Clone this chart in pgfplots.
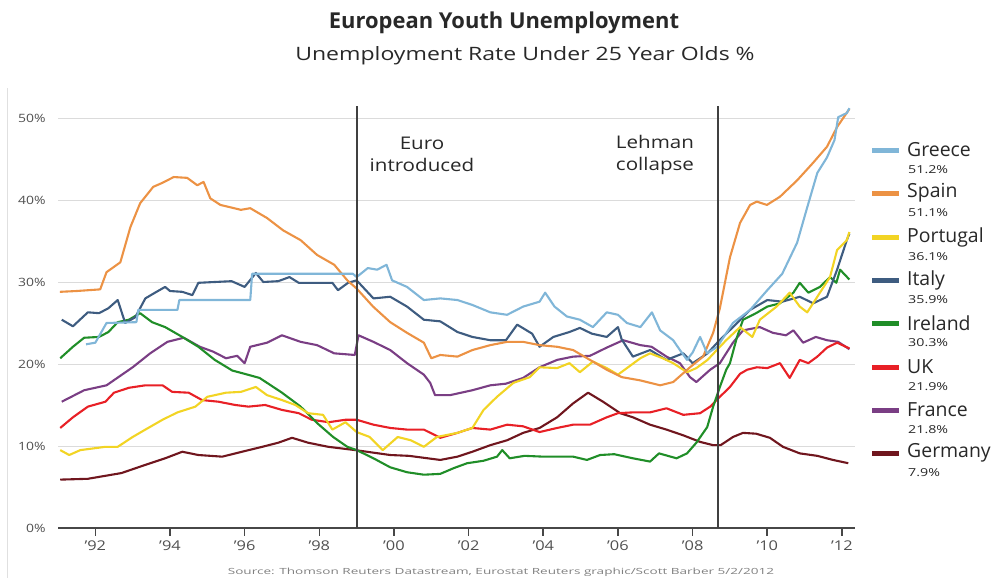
\documentclass[border=0pt]{standalone}
\usepackage{graphicx}
\usepackage{pgfplots}
\pgfplotsset{compat=1.18}
\usepackage{fontspec}
\setmainfont{Open Sans}
\newfontfamily\wide{Open Sans}[FakeStretch=1.22]
\definecolor{cGreece}{RGB}{128,182,216}
\definecolor{cSpain}{RGB}{236,146,68}
\definecolor{cPortugal}{RGB}{242,212,36}
\definecolor{cItaly}{RGB}{62,92,128}
\definecolor{cIreland}{RGB}{32,142,40}
\definecolor{cUK}{RGB}{232,32,38}
\definecolor{cFrance}{RGB}{122,62,132}
\definecolor{cGermany}{RGB}{112,22,30}
\definecolor{txt}{RGB}{40,40,40}
\definecolor{ticktxt}{RGB}{80,80,80}

\pgfplotstableread{
x y
1991.05 28.8
1991.5 28.9
1992.13 29.1
1992.3 31.2
1992.67 32.4
1992.94 36.7
1993.2 39.6
1993.55 41.6
1993.8 42.1
1994.1 42.8
1994.46 42.7
1994.73 41.8
1994.9 42.2
1995.08 40.2
1995.35 39.4
1995.9 38.8
1996.15 39.0
1996.6 37.8
1997.03 36.3
1997.5 35.1
1997.94 33.3
1998.4 32.1
1998.75 30.2
1999.0 29.2
1999.44 27.0
1999.9 25.1
2000.35 23.8
2000.8 22.6
2001.0 20.7
2001.24 21.1
2001.7 20.9
2002.1 21.7
2002.58 22.3
2003.03 22.7
2003.46 22.7
2003.9 22.3
2004.37 22.1
2004.8 21.7
2005.25 20.5
2005.7 19.3
2006.1 18.4
2006.6 18.0
2007.13 17.4
2007.48 17.8
2007.93 19.6
2008.28 20.9
2008.55 23.8
2008.73 26.8
2009.0 33.0
2009.27 37.2
2009.54 39.4
2009.72 39.8
2009.99 39.4
2010.34 40.4
2010.8 42.4
2011.22 44.5
2011.6 46.5
2011.87 48.9
2012.2 51.1
}\spain

\pgfplotstableread{
x y
1991.75 22.4
1992.0 22.6
1992.3 25.0
1993.1 25.1
1993.15 26.6
1994.2 26.6
1994.25 27.8
1996.15 27.8
1996.2 31.0
1998.9 31.0
1999.0 30.6
1999.3 31.7
1999.55 31.5
1999.8 32.1
1999.95 30.2
2000.35 29.4
2000.8 27.8
2001.24 28.0
2001.7 27.8
2002.1 27.2
2002.58 26.3
2003.03 26.0
2003.46 27.0
2003.9 27.6
2004.05 28.7
2004.3 27.0
2004.63 25.8
2004.98 25.4
2005.33 24.5
2005.7 26.3
2006.0 26.0
2006.24 25.0
2006.6 24.5
2006.91 26.3
2007.13 24.1
2007.48 22.9
2007.66 21.7
2007.85 20.5
2008.0 21.4
2008.2 23.3
2008.39 21.3
2008.66 22.1
2009.08 25.0
2009.54 26.6
2010.0 29.0
2010.4 31.0
2010.8 34.8
2011.07 39.1
2011.34 43.3
2011.6 45.2
2011.8 47.3
2011.9 50.1
2012.13 50.6
2012.2 51.2
}\greece

\pgfplotstableread{
x y
1991.06 9.5
1991.3 8.9
1991.6 9.5
1992.27 9.9
1992.6 9.9
1993.0 11.1
1993.34 12.0
1993.8 13.2
1994.2 14.1
1994.68 14.8
1995.0 16.0
1995.5 16.5
1995.9 16.6
1996.3 17.2
1996.6 16.2
1997.0 15.6
1997.36 15.0
1997.7 14.0
1998.1 13.8
1998.35 12.0
1998.7 12.9
1999.0 11.7
1999.35 11.1
1999.7 9.5
2000.1 11.1
2000.45 10.7
2000.8 9.9
2001.15 11.1
2001.7 11.6
2002.1 12.2
2002.4 14.4
2002.76 16.0
2003.2 17.7
2003.64 18.4
2003.9 19.6
2004.37 19.5
2004.7 20.1
2004.98 19.0
2005.33 20.3
2005.7 19.5
2006.0 18.7
2006.24 19.5
2006.6 20.7
2006.86 21.3
2007.2 20.7
2007.48 20.1
2007.85 19.0
2008.1 19.5
2008.4 20.5
2008.73 22.1
2008.9 22.9
2009.27 24.5
2009.6 23.3
2009.8 25.4
2010.25 27.0
2010.6 28.7
2010.87 27.0
2011.07 26.3
2011.34 28.2
2011.68 30.6
2011.87 33.9
2012.13 35.1
2012.2 36.1
}\portugal

\pgfplotstableread{
x y
1991.1 25.4
1991.4 24.6
1991.8 26.3
1992.1 26.2
1992.35 26.8
1992.6 27.8
1992.8 25.0
1993.07 25.7
1993.34 28.0
1993.6 28.7
1993.87 29.4
1994.0 28.9
1994.33 28.8
1994.6 28.4
1994.76 29.9
1995.2 30.0
1995.65 30.1
1996.0 29.4
1996.3 31.1
1996.5 30.0
1996.9 30.1
1997.2 30.6
1997.45 29.9
1997.9 29.9
1998.35 29.9
1998.5 29.0
1998.77 29.9
1999.0 30.2
1999.45 28.0
1999.9 28.2
2000.35 27.0
2000.8 25.4
2001.24 25.2
2001.7 23.9
2002.1 23.3
2002.58 22.9
2003.0 22.9
2003.3 24.8
2003.7 23.7
2003.9 22.1
2004.27 23.3
2004.7 23.9
2004.98 24.4
2005.3 23.7
2005.7 23.3
2006.0 24.5
2006.1 23.0
2006.4 20.9
2006.86 21.7
2007.3 20.5
2007.75 21.3
2008.0 20.1
2008.4 21.3
2008.66 22.6
2009.08 24.5
2009.54 26.6
2010.0 27.8
2010.4 27.6
2010.87 28.2
2011.23 27.4
2011.6 28.2
2011.87 31.5
2012.13 35.1
2012.2 35.9
}\italy

\pgfplotstableread{
x y
1991.06 20.7
1991.4 22.1
1991.7 23.2
1992.1 23.3
1992.35 23.9
1992.6 25.1
1992.9 25.4
1993.2 26.2
1993.52 25.1
1993.87 24.5
1994.33 23.3
1994.76 22.1
1995.2 20.5
1995.67 19.2
1996.0 18.8
1996.4 18.3
1997.0 16.5
1997.5 14.8
1997.94 12.8
1998.37 11.1
1998.75 9.9
1999.0 9.5
1999.45 8.5
1999.9 7.4
2000.35 6.8
2000.8 6.5
2001.24 6.6
2001.6 7.3
2001.96 7.9
2002.4 8.2
2002.76 8.7
2002.9 9.5
2003.1 8.5
2003.5 8.8
2004.0 8.7
2004.4 8.7
2004.8 8.7
2005.17 8.3
2005.52 8.9
2005.9 9.0
2006.4 8.5
2006.86 8.1
2007.1 9.1
2007.57 8.5
2007.85 9.1
2008.1 10.4
2008.39 12.3
2008.55 14.8
2008.73 17.2
2008.9 19.3
2009.0 20.1
2009.19 23.3
2009.35 25.4
2009.7 26.2
2010.0 27.0
2010.34 27.4
2010.7 28.7
2010.87 29.9
2011.1 28.7
2011.41 29.4
2011.68 30.6
2011.85 29.9
2011.95 31.5
2012.2 30.3
}\ireland

\pgfplotstableread{
x y
1991.06 12.2
1991.4 13.5
1991.8 14.8
1992.27 15.4
1992.5 16.5
1992.9 17.1
1993.34 17.4
1993.8 17.4
1994.06 16.6
1994.5 16.5
1994.86 15.6
1995.3 15.4
1995.75 15.0
1996.1 14.8
1996.55 15.0
1997.0 14.4
1997.45 14.0
1997.8 13.2
1998.25 12.9
1998.7 13.2
1999.0 13.2
1999.45 12.6
1999.9 12.2
2000.35 12.0
2000.8 12.0
2001.24 11.0
2001.7 11.6
2002.1 12.2
2002.58 12.0
2003.03 12.6
2003.46 12.4
2003.9 11.7
2004.37 12.2
2004.8 12.6
2005.25 12.6
2005.7 13.5
2006.0 14.0
2006.4 14.1
2006.86 14.1
2007.3 14.6
2007.75 13.8
2008.2 14.0
2008.47 14.8
2008.73 16.0
2009.0 17.2
2009.27 18.8
2009.46 19.3
2009.72 19.6
2010.0 19.5
2010.34 20.1
2010.6 18.3
2010.87 20.5
2011.1 20.1
2011.34 20.9
2011.6 22.0
2011.87 22.6
2012.2 21.9
}\uk

\pgfplotstableread{
x y
1991.1 15.4
1991.7 16.8
1992.3 17.4
1993.0 19.6
1993.47 21.3
1993.93 22.7
1994.37 23.2
1994.8 22.1
1995.16 21.5
1995.5 20.7
1995.8 21.0
1996.0 20.1
1996.15 22.1
1996.6 22.6
1997.0 23.5
1997.5 22.7
1997.94 22.3
1998.4 21.3
1998.95 21.1
1999.05 23.5
1999.45 22.7
1999.9 21.7
2000.35 20.1
2000.8 18.7
2000.97 17.7
2001.1 16.2
2001.5 16.2
2002.1 16.8
2002.58 17.4
2003.0 17.6
2003.46 18.3
2003.9 19.6
2004.37 20.5
2004.8 20.9
2005.25 21.0
2005.7 22.0
2006.14 22.9
2006.6 22.3
2006.9 22.1
2007.3 20.9
2007.66 20.1
2007.93 18.4
2008.1 17.8
2008.47 19.3
2008.73 20.1
2009.08 22.6
2009.35 24.1
2009.8 24.5
2010.15 23.8
2010.5 23.5
2010.7 24.1
2010.96 22.6
2011.3 23.3
2011.6 22.9
2011.9 22.7
2012.2 21.8
}\france

\pgfplotstableread{
x y
1991.06 5.9
1991.8 6.0
1992.7 6.7
1993.34 7.7
1993.87 8.5
1994.33 9.3
1994.76 8.9
1995.4 8.7
1995.93 9.3
1996.47 9.9
1996.9 10.4
1997.27 11.0
1997.7 10.4
1998.24 9.9
1998.96 9.5
1999.9 8.9
2000.4 8.8
2001.24 8.3
2001.7 8.7
2002.1 9.3
2002.58 10.1
2003.03 10.7
2003.46 11.6
2003.9 12.2
2004.37 13.5
2004.8 15.2
2005.2 16.5
2005.6 15.4
2006.06 14.0
2006.4 13.5
2006.86 12.6
2007.3 12.0
2007.75 11.3
2008.2 10.5
2008.55 10.1
2008.75 10.1
2009.08 11.1
2009.35 11.6
2009.7 11.5
2010.07 11.0
2010.42 9.9
2010.87 9.1
2011.34 8.8
2011.76 8.3
2012.17 7.9
}\germany

\begin{document}
\begin{tikzpicture}
\path[use as bounding box] (0,0) rectangle (997bp,578bp);
\begin{axis}[
  at={(58bp,50bp)}, anchor=south west,
  scale only axis, width=797bp, height=422.3bp,
  xmin=1991, xmax=2012.35, ymin=0, ymax=51.5,
  clip=false,
  axis x line*=bottom, axis y line*=left,
  x axis line style={-, draw=black!72, line width=1.6bp},
  y axis line style={draw=none},
  xtick={1992,1994,...,2012},
  xticklabels={’92,’94,’96,’98,’00,’02,’04,’06,’08,’10,’12},
  ytick={0,10,20,30,40,50},
  yticklabel={\pgfmathprintnumber{\tick}\%},
  ymajorgrids, grid style={draw=black!14, line width=0.9bp},
  tick align=outside, major tick length=8bp,
  xtick style={draw=black!72, line width=1.6bp},
  ytick style={draw=none},
  /pgf/number format/assume math mode=true,
  xticklabel style={font=\wide\fontsize{13.5}{13.5}\selectfont, text=ticktxt, yshift=-1bp},
  yticklabel style={font=\wide\fontsize{11.5}{11.5}\selectfont, text=ticktxt, xshift=-1bp},
  every axis plot/.append style={line width=2.1bp, line join=round},
]
\addplot[cGermany] table[x=x,y=y] {\germany};
\addplot[cFrance] table[x=x,y=y] {\france};
\addplot[cUK] table[x=x,y=y] {\uk};
\addplot[cIreland] table[x=x,y=y] {\ireland};
\addplot[cItaly] table[x=x,y=y] {\italy};
\addplot[cPortugal] table[x=x,y=y] {\portugal};
\addplot[cSpain] table[x=x,y=y] {\spain};
\addplot[cGreece] table[x=x,y=y] {\greece};
\draw[black!75, line width=1.8bp] (axis cs:1999.02,0) -- (axis cs:1999.02,51.5);
\draw[black!75, line width=1.8bp] (axis cs:2008.68,0) -- (axis cs:2008.68,51.5);
\end{axis}
% left frame edge
\draw[black!12, line width=1bp] (7bp,0) -- (7bp,490bp);
% titles
\node[font=\bfseries\fontsize{22}{22}\selectfont, text=txt] at (504bp,555bp) {European Youth Unemployment};
\node[font=\fontsize{18.5}{18.5}\selectfont, text=txt] at (525bp,522bp) {\scalebox{1.25}[1]{Unemployment Rate Under 25 Year Olds \%}};
% annotations
\node[font=\fontsize{17.5}{22}\selectfont, text=txt, align=center] at (422bp,424bp) {\scalebox{1.18}[1]{Euro}\\\scalebox{1.18}[1]{introduced}};
\node[font=\fontsize{17.5}{22}\selectfont, text=txt, align=center] at (655bp,423bp) {\scalebox{1.18}[1]{Lehman}\\\scalebox{1.18}[1]{collapse}};
% legend
\foreach \c/\n/\v/\yy in {cGreece/Greece/51.2/428, cSpain/Spain/51.1/385, cPortugal/Portugal/36.1/341, cItaly/Italy/35.9/298, cIreland/Ireland/30.3/255, cUK/UK/21.9/211, cFrance/France/21.8/168, cGermany/Germany/7.9/125}{
  \draw[\c, line width=5bp] (872bp,\yy bp-1bp) -- (899bp,\yy bp-1bp);
  \node[anchor=west, font=\fontsize{19.5}{19.5}\selectfont, text=txt, inner sep=0pt] at (907bp,\yy bp) {\n};
  \node[anchor=west, font=\fontsize{11}{11}\selectfont, text=txt, inner sep=0pt] at (908bp,\yy bp-20bp) {\scalebox{1.3}[1]{\v\%}};
}
\node[font=\fontsize{8.5}{8.5}\selectfont, text=black!50] at (501bp,6bp) {\scalebox{1.6}[1]{Source: Thomson Reuters Datastream, Eurostat Reuters graphic/Scott Barber 5/2/2012}};
\end{tikzpicture}
\end{document}
